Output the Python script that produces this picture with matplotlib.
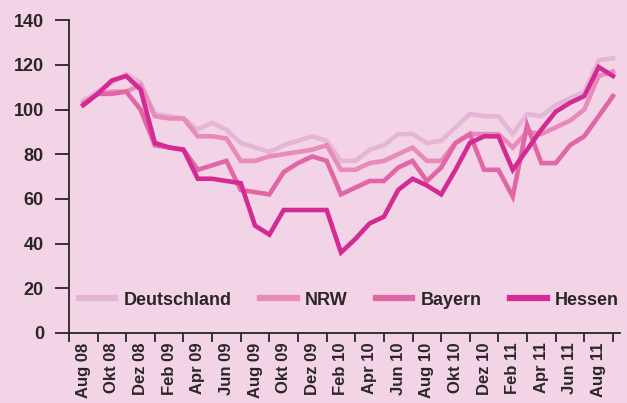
import matplotlib.pyplot as plt

months = [
    "Aug 08", "Sep 08", "Okt 08", "Nov 08", "Dez 08", "Jan 09", "Feb 09", "Mär 09",
    "Apr 09", "Mai 09", "Jun 09", "Jul 09", "Aug 09", "Sep 09", "Okt 09", "Nov 09",
    "Dez 09", "Jan 10", "Feb 10", "Mär 10", "Apr 10", "Mai 10", "Jun 10", "Jul 10",
    "Aug 10", "Sep 10", "Okt 10", "Nov 10", "Dez 10", "Jan 11", "Feb 11", "Mär 11",
    "Apr 11", "Mai 11", "Jun 11", "Jul 11", "Aug 11", "Sep 11",
]

deutschland = [104, 108, 112, 116, 112, 98, 97, 96, 91, 94, 91, 85, 83, 81, 84, 86,
               88, 86, 77, 77, 82, 84, 89, 89, 85, 86, 92, 98, 97, 97, 89, 98,
               97, 102, 105, 108, 122, 123]
nrw = [103, 107, 108, 108, 111, 97, 96, 96, 88, 88, 87, 77, 77, 79, 80, 81,
       82, 84, 73, 73, 76, 77, 80, 83, 77, 77, 85, 89, 89, 89, 83, 90,
       89, 92, 95, 100, 115, 117]
bayern = [102, 107, 107, 108, 100, 84, 83, 82, 73, 75, 77, 64, 63, 62, 72, 76,
          79, 77, 62, 65, 68, 68, 74, 77, 68, 74, 85, 89, 73, 73, 61, 93,
          76, 76, 84, 88, 97, 106]
hessen = [102, 107, 113, 115, 109, 85, 83, 82, 69, 69, 68, 67, 48, 44, 55, 55,
          55, 55, 36, 42, 49, 52, 64, 69, 66, 62, 73, 85, 88, 88, 73, 82,
          91, 99, 103, 106, 119, 115]

series = [
    ("Deutschland", deutschland, "#e4b6d6"),
    ("NRW", nrw, "#e88abb"),
    ("Bayern", bayern, "#e066a6"),
    ("Hessen", hessen, "#d32a93"),
]

BG = "#f3d4e6"
INK = "#2a2527"

plt.rcParams["font.family"] = ["Liberation Sans", "DejaVu Sans"]
plt.rcParams["font.weight"] = "bold"

fig = plt.figure(figsize=(6.27, 4.03), dpi=100, facecolor=BG)
ax = fig.add_axes([0.110, 0.174, 0.879, 0.776], facecolor=BG)

x = list(range(len(months)))
for name, vals, color in series:
    ax.plot(x, vals, color=color, lw=3.3, label=name, solid_joinstyle="miter")

ax.set_xlim(-1, 37.5)
ax.set_ylim(0, 140)
ax.set_yticks(range(0, 141, 20))
ax.tick_params(axis="y", labelsize=13, colors=INK, length=10, width=1.3, pad=8)

# ticks between month pairs, labels centred on every second month
ax.set_xticks([i - 1 for i in range(0, 39, 2)])
ax.set_xticks(x[::2], minor=True)
ax.set_xticklabels(months[::2], minor=True, rotation=90, fontsize=12, color=INK)
ax.set_xticklabels([])
ax.tick_params(axis="x", which="major", length=6.5, width=1.3, colors=INK)
ax.tick_params(axis="x", which="minor", length=0, pad=7)

for side in ["top", "right"]:
    ax.spines[side].set_visible(False)
for side in ["left", "bottom"]:
    ax.spines[side].set_color(INK)
    ax.spines[side].set_linewidth(1.3)

leg = ax.legend(
    loc="center",
    bbox_to_anchor=(0.508, 0.105),
    ncol=4,
    frameon=False,
    fontsize=13,
    handlelength=2.0,
    handletextpad=0.45,
    columnspacing=1.6,
)
for line in leg.get_lines():
    line.set_linewidth(4.5)
for text in leg.get_texts():
    text.set_color(INK)

fig.savefig("out.png", dpi=100, facecolor=BG)
